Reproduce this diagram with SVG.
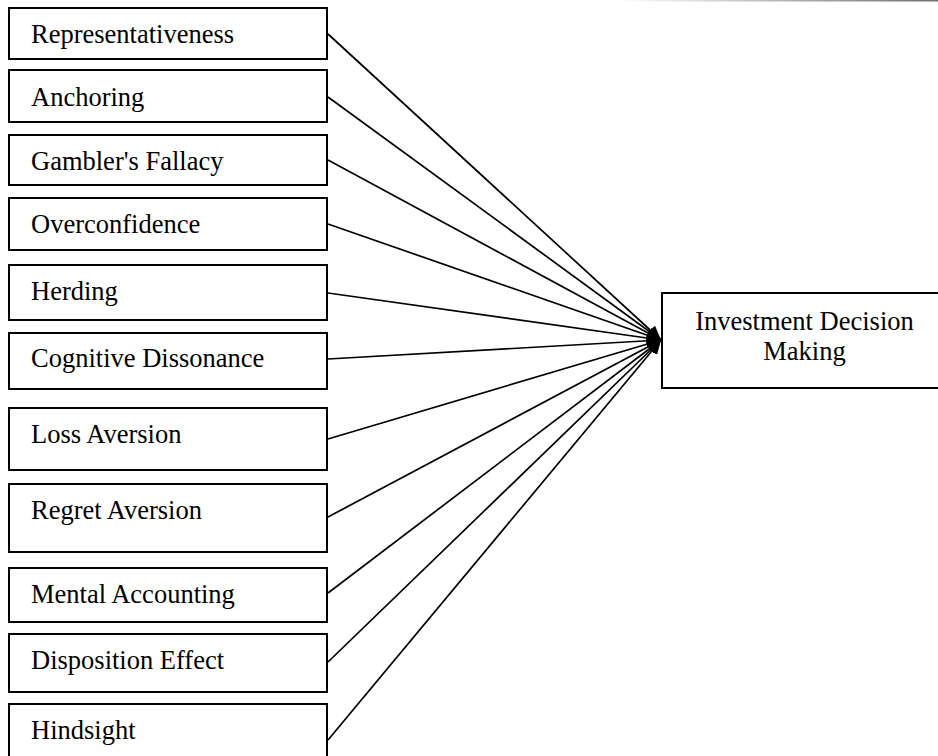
<svg xmlns="http://www.w3.org/2000/svg" width="938" height="756" viewBox="0 0 938 756">
  <style>
    .box { fill: #ffffff; stroke: #000000; stroke-width: 2; }
    .label { font-family: "Liberation Serif", "Times New Roman", serif; font-size: 26.5px; fill: #000000; }
    .edge { stroke: #000000; stroke-width: 1.7; fill: none; marker-end: url(#head); }
  </style>
  <defs>
    <marker id="head" markerUnits="userSpaceOnUse" markerWidth="15" markerHeight="14" refX="14" refY="6.5" orient="auto">
      <path d="M0,0 L14,6.5 L0,13 Z" fill="#000000"/>
    </marker>
    <linearGradient id="rule" x1="0" y1="0" x2="1" y2="0">
      <stop offset="0" stop-color="#ffffff"/>
      <stop offset="1" stop-color="#6e6e6e"/>
    </linearGradient>
  </defs>

  <rect x="0" y="0" width="938" height="756" fill="#ffffff"/>
  <!-- thin shaded rule along the top edge -->
  <rect x="620" y="0" width="318" height="1.5" fill="url(#rule)"/>

  <g id="connectors">
    <line class="edge" x1="328" y1="34" x2="661" y2="340"/>
    <line class="edge" x1="328" y1="97" x2="661" y2="340"/>
    <line class="edge" x1="328" y1="160" x2="661" y2="340"/>
    <line class="edge" x1="328" y1="224" x2="661" y2="340"/>
    <line class="edge" x1="328" y1="293" x2="661" y2="340"/>
    <line class="edge" x1="328" y1="359" x2="661" y2="340"/>
    <line class="edge" x1="328" y1="439" x2="661" y2="340"/>
    <line class="edge" x1="328" y1="517" x2="661" y2="340"/>
    <line class="edge" x1="328" y1="593" x2="661" y2="340"/>
    <line class="edge" x1="328" y1="662" x2="661" y2="340"/>
    <line class="edge" x1="328" y1="740" x2="661" y2="340"/>
  </g>

  <g id="representativeness">
    <rect class="box" x="9" y="8" width="318" height="51"/>
    <text class="label" x="31" y="43">Representativeness</text>
  </g>
  <g id="anchoring">
    <rect class="box" x="9" y="70" width="318" height="52"/>
    <text class="label" x="31" y="106">Anchoring</text>
  </g>
  <g id="gamblers-fallacy">
    <rect class="box" x="9" y="135" width="318" height="50"/>
    <text class="label" x="31" y="170">Gambler's Fallacy</text>
  </g>
  <g id="overconfidence">
    <rect class="box" x="9" y="198" width="318" height="52"/>
    <text class="label" x="31" y="233">Overconfidence</text>
  </g>
  <g id="herding">
    <rect class="box" x="9" y="265" width="318" height="55"/>
    <text class="label" x="31" y="300">Herding</text>
  </g>
  <g id="cognitive-dissonance">
    <rect class="box" x="9" y="333" width="318" height="56"/>
    <text class="label" x="31" y="367">Cognitive Dissonance</text>
  </g>
  <g id="loss-aversion">
    <rect class="box" x="9" y="408" width="318" height="62"/>
    <text class="label" x="31" y="443">Loss Aversion</text>
  </g>
  <g id="regret-aversion">
    <rect class="box" x="9" y="484" width="318" height="68"/>
    <text class="label" x="31" y="519">Regret Aversion</text>
  </g>
  <g id="mental-accounting">
    <rect class="box" x="9" y="568" width="318" height="54"/>
    <text class="label" x="31" y="603">Mental Accounting</text>
  </g>
  <g id="disposition-effect">
    <rect class="box" x="9" y="634" width="318" height="58"/>
    <text class="label" x="31" y="669">Disposition Effect</text>
  </g>
  <g id="hindsight">
    <rect class="box" x="9" y="704" width="318" height="60"/>
    <text class="label" x="31" y="739">Hindsight</text>
  </g>

  <g id="investment-decision-making">
    <rect class="box" x="662" y="293" width="285" height="95"/>
    <text class="label" x="804.5" y="330" text-anchor="middle">Investment Decision</text>
    <text class="label" x="804.5" y="360" text-anchor="middle">Making</text>
  </g>
</svg>
